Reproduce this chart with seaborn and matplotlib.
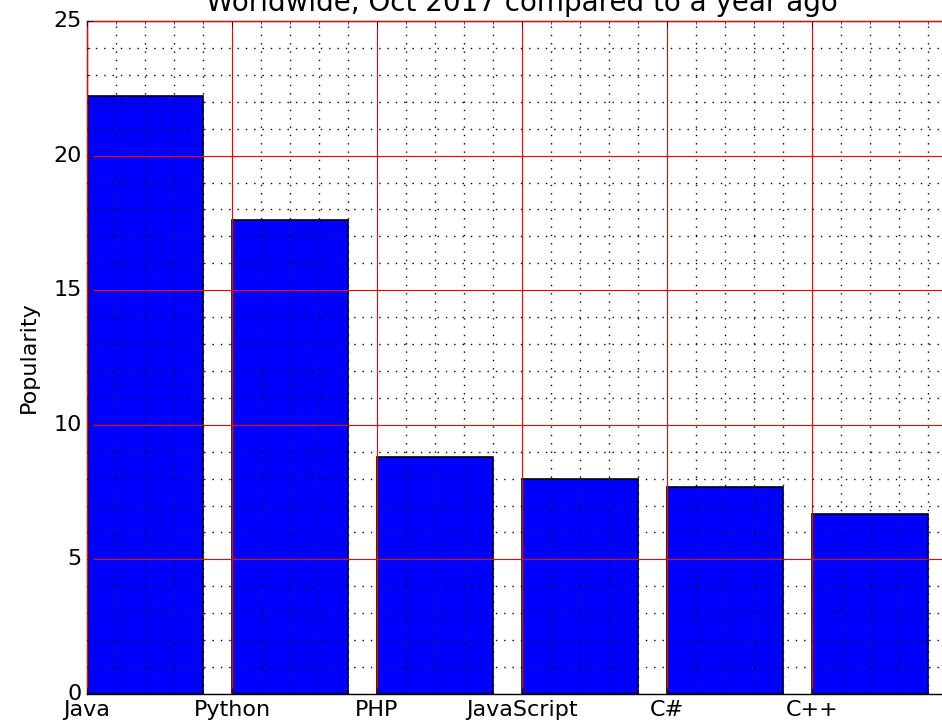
import matplotlib
matplotlib.use("Agg")
import matplotlib.pyplot as plt
from matplotlib.ticker import MultipleLocator
import seaborn as sns
import pandas as pd

languages = ["Java", "Python", "PHP", "JavaScript", "C#", "C++"]
popularity = [22.2, 17.6, 8.8, 8.0, 7.7, 6.7]
title = "Worldwide, Oct 2017 compared to a year ago"

plt.style.use("classic")
plt.rcParams["font.family"] = ["DejaVu Sans"]
plt.rcParams["font.size"] = 16

bar_width = 0.8
positions = list(range(len(languages)))
df = pd.DataFrame({
    "pos": [p + bar_width / 2 for p in positions],
    "Popularity": popularity,
    "Language": languages,
})

fig = plt.figure(figsize=(9.42, 7.27), dpi=100, facecolor="white")
ax = fig.add_axes([87 / 942, 33 / 727, 870 / 942, 673 / 727])

sns.barplot(data=df, x="pos", y="Popularity", native_scale=True,
            width=bar_width, color="#0000ff", saturation=1,
            edgecolor="black", linewidth=1.2, ax=ax, zorder=1)

ax.set_xlim(0, 6)
ax.set_ylim(0, 25)
ax.set_xticks(positions)
ax.set_xticklabels(languages, fontsize=16)
ax.set_yticks([0, 5, 10, 15, 20, 25])
ax.tick_params(axis="y", labelsize=16)
ax.xaxis.set_minor_locator(MultipleLocator(0.2))
ax.yaxis.set_minor_locator(MultipleLocator(1))
ax.set_xlabel("")
ax.set_ylabel("Popularity", fontsize=16, labelpad=10)
ax.set_title(title, fontsize=20, pad=7.5)

ax.set_axisbelow(False)
ax.grid(which="major", color="red", linestyle="-", linewidth=0.8, zorder=3)
ax.grid(which="minor", color="black", linestyle=(0, (1, 5)), linewidth=1.0,
        zorder=3)

fig.savefig("out.png", dpi=100, facecolor="white")
